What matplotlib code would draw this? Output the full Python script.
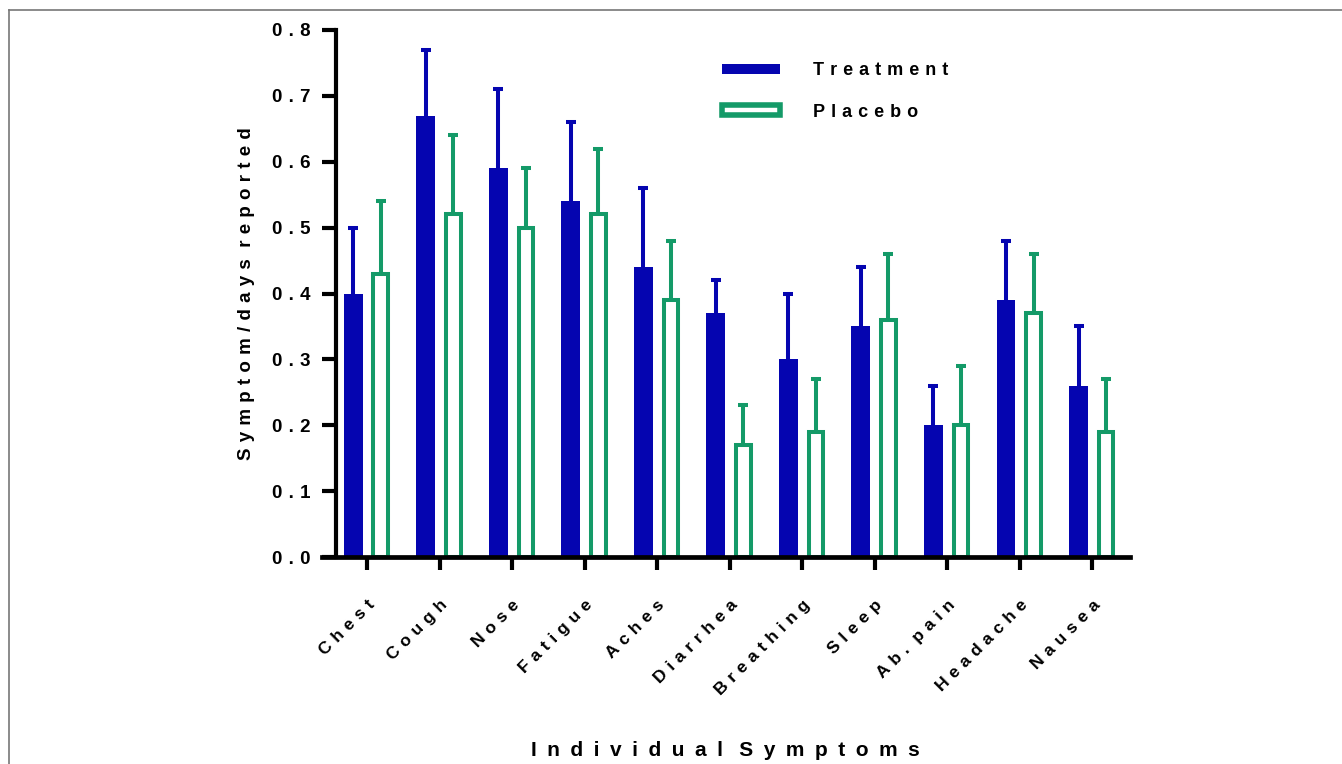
import numpy as np
import matplotlib.pyplot as plt
from matplotlib.patches import Patch
from matplotlib.lines import Line2D

plt.rcParams['font.family'] = ['Liberation Sans', 'DejaVu Sans']
plt.rcParams['font.weight'] = 'bold'

symptoms = ['Chest', 'Cough', 'Nose', 'Fatigue', 'Aches', 'Diarrhea',
            'Breathing', 'Sleep', 'Ab. pain', 'Headache', 'Nausea']
treatment = [0.40, 0.67, 0.59, 0.54, 0.44, 0.37, 0.30, 0.35, 0.20, 0.39, 0.26]
treatment_err = [0.10, 0.10, 0.12, 0.12, 0.12, 0.05, 0.10, 0.09, 0.06, 0.09, 0.09]
placebo = [0.43, 0.52, 0.50, 0.52, 0.39, 0.17, 0.19, 0.36, 0.20, 0.37, 0.19]
placebo_err = [0.11, 0.12, 0.09, 0.10, 0.09, 0.06, 0.08, 0.10, 0.09, 0.09, 0.08]
yticks = [0.0, 0.1, 0.2, 0.3, 0.4, 0.5, 0.6, 0.7, 0.8]

blue = '#0505B0'
green = '#149A68'


def spaced(s, gap='\u2004'):
    # wide letter spacing like the original graph
    return (' ' + gap).join(gap.join(w) for w in s.split(' '))


fig = plt.figure(figsize=(13.42, 7.64), dpi=100)
W, H = 1342, 764
ax = fig.add_axes([322 / W, 1 - 557 / H, (1130 - 322) / W, (557 - 30) / H])

x = np.arange(len(symptoms))
off = 0.19
ax.bar(x - off, treatment, width=0.26, color=blue, zorder=2)
_, caps, _ = ax.errorbar(x - off, treatment, yerr=[np.zeros(len(x)), treatment_err], fmt='none',
                         ecolor=blue, elinewidth=2.9, capsize=3.5, capthick=2.9, zorder=1)
caps[0].set_visible(False)
ax.bar(x + off, placebo, width=0.2, facecolor='white', edgecolor=green,
       linewidth=2.9, zorder=2)
_, caps, _ = ax.errorbar(x + off, placebo, yerr=[np.zeros(len(x)), placebo_err], fmt='none',
                         ecolor=green, elinewidth=2.9, capsize=3.5, capthick=2.9, zorder=1)
caps[0].set_visible(False)

ax.set_xlim(-0.62, 10.52)
ax.set_ylim(0, 0.8)
for s in ['top', 'right']:
    ax.spines[s].set_visible(False)
ax.spines['left'].set_position(('data', -0.43))
ax.spines['left'].set_linewidth(3.0)
ax.spines['bottom'].set_linewidth(3.4)
ax.spines['left'].set_zorder(3)
ax.spines['bottom'].set_zorder(3)

ax.set_yticks(yticks)
ax.set_yticklabels([spaced(f'{v:.1f}') for v in yticks], fontsize=13.5, fontweight='bold')
ax.tick_params(axis='y', length=10, width=3.0, pad=8)
ax.set_xticks(x)
ax.set_xticklabels([spaced(s) for s in symptoms], rotation=45, ha='right', va='top',
                   rotation_mode='anchor', fontsize=12.5, fontweight='bold')
ax.tick_params(axis='x', length=9, width=3.0, pad=20)

ax.set_ylabel(spaced('Symptom/days reported'), fontsize=13.5, fontweight='bold', labelpad=12)
fig.text(725 / W, 1 - 750 / H, spaced('Individual Symptoms', '\u2002'), ha='center', va='center',
         fontsize=15, fontweight='bold')

handles = [Patch(facecolor=blue, edgecolor=blue, linewidth=0),
           Patch(facecolor='white', edgecolor=green, linewidth=4.0)]
ax.legend(handles, [spaced('Treatment'), spaced('Placebo')], loc='upper left',
          bbox_to_anchor=(706 / W, 1 - 46 / H), bbox_transform=fig.transFigure,
          frameon=False, handlelength=3.2, handleheight=0.45,
          handletextpad=1.8, labelspacing=1.35, prop={'weight': 'bold', 'size': 13})

# thin gray frame around figure
fig.add_artist(Line2D([9 / W, 1], [1 - 10 / H, 1 - 10 / H], color='#777777', lw=1.2,
                      transform=fig.transFigure))
fig.add_artist(Line2D([9 / W, 9 / W], [0, 1 - 10 / H], color='#777777', lw=1.2,
                      transform=fig.transFigure))

fig.savefig('out.png', dpi=100)
